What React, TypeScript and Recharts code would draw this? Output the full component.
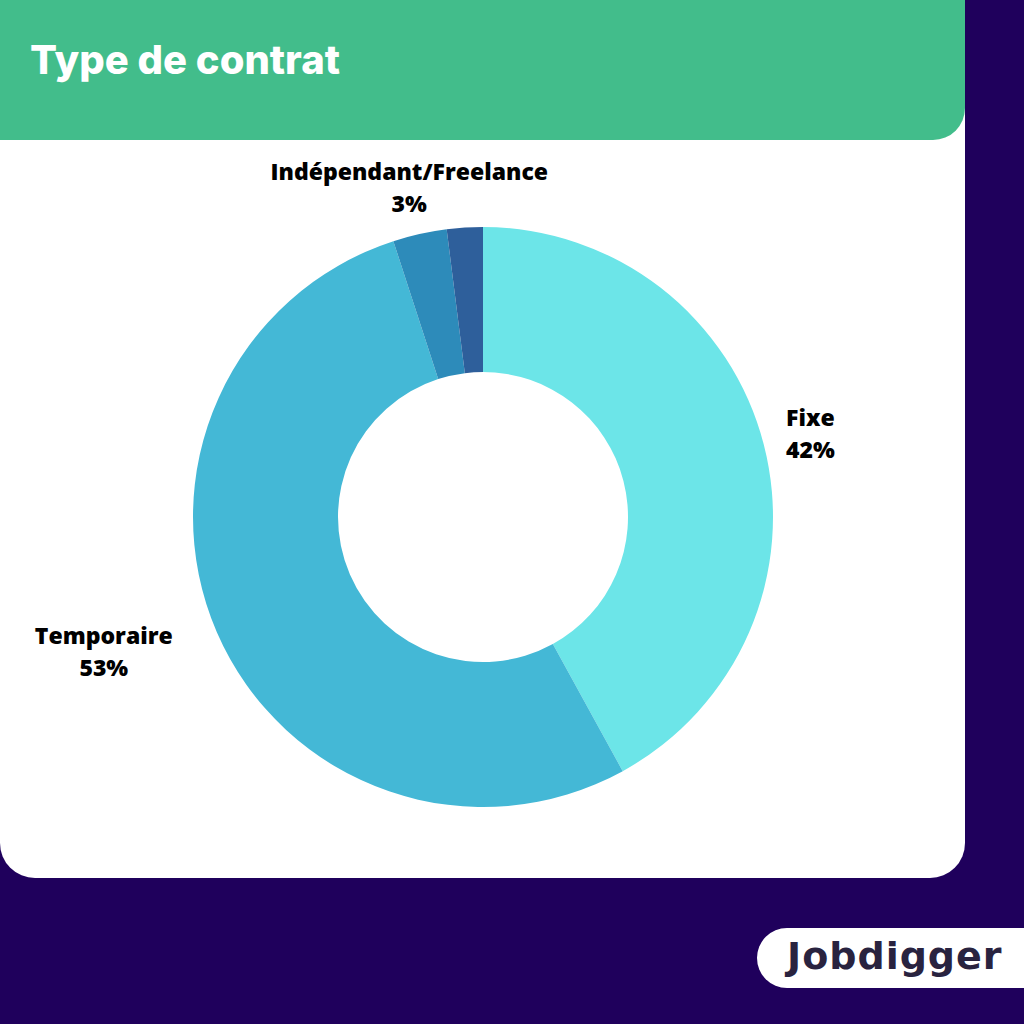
import { PieChart, Pie, Cell } from "recharts";

const categories = ["Fixe", "Temporaire", "Indépendant/Freelance", "Autre"];
const shares = [42, 53, 3, 2];
const colors = ["#6ce5e8", "#44b8d6", "#2d8bba", "#2e5f9b"];

const data = categories.map((name, i) => ({ name, value: shares[i] }));

const RAD = Math.PI / 180;
const LABEL_SIZE = 23;

function renderLabel(props: any) {
  const { cx, cy, midAngle, outerRadius, index, value } = props;
  // the smallest slice carries no label in the original
  if (value < 3) return null;
  const r = outerRadius + 48;
  const cos = Math.cos(-midAngle * RAD);
  let x = cx + r * cos;
  const y = cy + r * Math.sin(-midAngle * RAD);
  // labels on the left hang off the anchor point, both lines centred on each other
  if (cos < -0.5) x -= (categories[index].length * 0.6 * LABEL_SIZE) / 2;
  return (
    <text
      x={x}
      y={y}
      textAnchor="middle"
      fill="#000"
      fontFamily="'Open Sans', sans-serif"
      fontWeight={800}
      fontSize={LABEL_SIZE}
    >
      <tspan x={x} y={y - 16} dominantBaseline="central">{categories[index]}</tspan>
      <tspan x={x} y={y + 16} dominantBaseline="central">{`${value}%`}</tspan>
    </text>
  );
}

export default function App() {
  return (
    <div style={{ position: "fixed", left: 0, top: 0, width: 1024, height: 1024, background: "#1f005c", overflow: "hidden" }}>
      {/* white card */}
      <div style={{ position: "absolute", left: 0, top: 0, width: 965, height: 878, background: "#fff", borderRadius: "0 0 35px 35px" }} />
      {/* green header */}
      <div style={{ position: "absolute", left: 0, top: 0, width: 965, height: 140, background: "#42bd8b", borderRadius: "0 0 32px 0" }} />
      <div
        style={{
          position: "absolute",
          left: 30,
          top: 34,
          color: "#fff",
          fontFamily: "Inter, sans-serif",
          fontWeight: 800,
          fontSize: 40,
          lineHeight: "52px",
        }}
      >
        Type de contrat
      </div>

      <div style={{ position: "absolute", left: 0, top: 0 }}>
        <PieChart width={965} height={878} margin={{ top: 0, right: 0, bottom: 0, left: 0 }}>
          <Pie
            data={data}
            dataKey="value"
            nameKey="name"
            cx={483}
            cy={517}
            innerRadius={145}
            outerRadius={290}
            startAngle={90}
            endAngle={-270}
            stroke="none"
            label={renderLabel}
            labelLine={false}
            isAnimationActive={false}
          >
            {data.map((d, i) => (
              <Cell key={d.name} fill={colors[i]} />
            ))}
          </Pie>
        </PieChart>
      </div>

      {/* logo pill */}
      <div
        style={{
          position: "absolute",
          left: 757,
          top: 928,
          width: 300,
          height: 60,
          background: "#fff",
          borderRadius: 30,
        }}
      />
      <div
        style={{
          position: "absolute",
          left: 787,
          top: 930,
          color: "#29233f",
          fontFamily: "'DejaVu Sans', sans-serif",
          fontWeight: 700,
          fontSize: 38,
          lineHeight: "52px",
          letterSpacing: 1,
        }}
      >
        Jobdigger
      </div>
    </div>
  );
}
